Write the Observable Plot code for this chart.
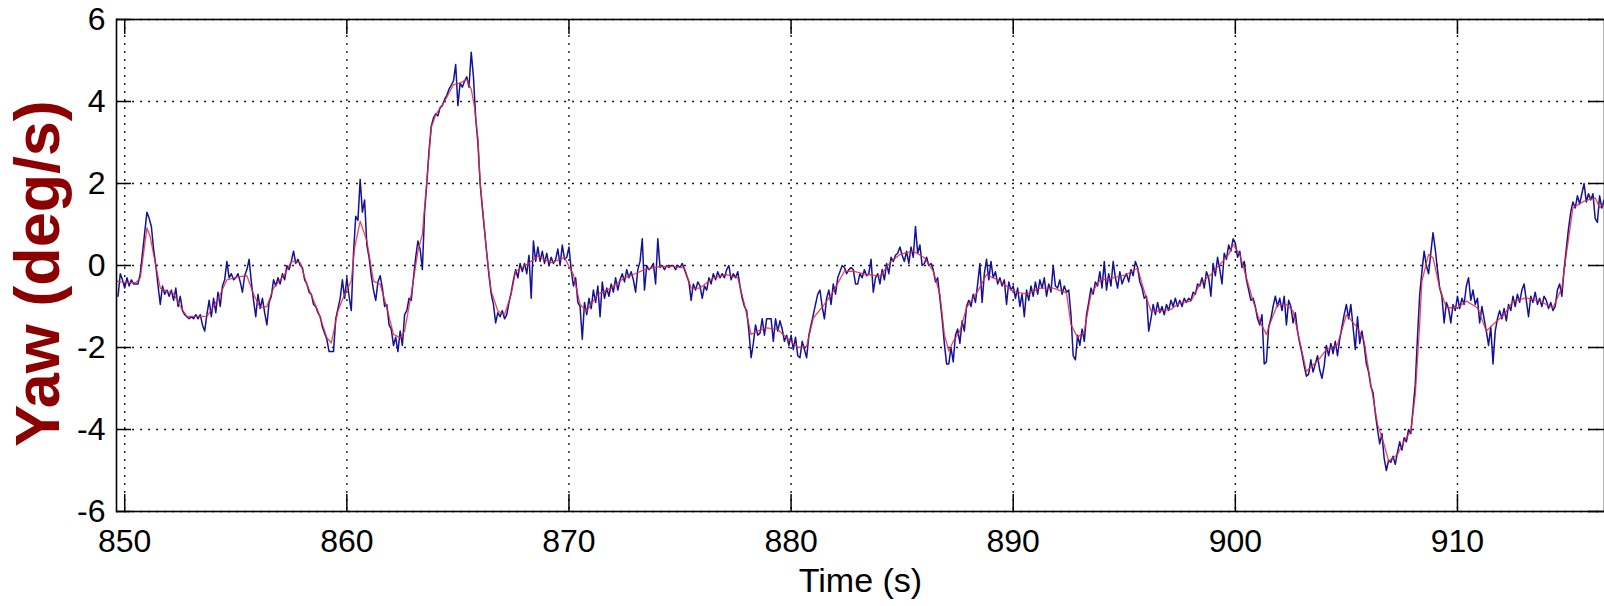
<!DOCTYPE html>
<html>
<head>
<meta charset="utf-8">
<script src="https://cdn.jsdelivr.net/npm/d3@7"></script>
<script src="https://cdn.jsdelivr.net/npm/@observablehq/plot@0.6"></script>
<style>
  html, body { margin: 0; padding: 0; background: #fff; }
  #chart { width: 1604px; height: 606px; overflow: hidden; }
</style>
</head>
<body>
<div id="chart"></div>
<script>
// ---- data ----
const xTicks = [850, 860, 870, 880, 890, 900, 910];
const xTickLabels = ["850", "860", "870", "880", "890", "900", "910"];
const yTicks = [-6, -4, -2, 0, 2, 4, 6];
const yTickLabels = ["-6", "-4", "-2", "0", "2", "4", "6"];
const xLabel = "Time (s)";
const yLabel = "Yaw (deg/s)";

// raw gyro yaw rate (blue), sampled every 0.1 s starting at 849.7 s
const blueStart = 849.7;
const blueStep = 0.1;
const blueValues = [
  -0.75, -0.2, -0.35,
  -0.55, -0.3, -0.5, -0.35, -0.45, -0.45, -0.45, -0.2, 0.3, 0.8,
  1.3, 1.15, 0.95, 0.4, 0.0, -0.5, -0.95, -0.5, -0.7, -0.6,
  -0.75, -0.6, -0.85, -0.55, -1.0, -0.75, -1.1, -1.2, -1.25, -1.3,
  -1.25, -1.3, -1.2, -1.3, -1.2, -1.45, -1.6, -1.2, -0.85, -1.25,
  -0.8, -1.15, -0.65, -1.0, -0.5, -0.35, 0.1, -0.3, -0.2, -0.35,
  -0.3, -0.2, -0.4, -0.65, -0.25, -0.1, 0.15, -0.4, -0.85, -1.25,
  -0.7, -1.05, -0.8, -1.15, -1.45, -0.9, -0.75, -0.35, -0.5, -0.3,
  -0.45, -0.2, -0.35, 0.0, -0.1, 0.1, 0.35, 0.05, 0.15, 0.0,
  -0.05, -0.35, -0.45, -0.65, -0.7, -0.95, -1.0, -1.15, -1.25, -1.5,
  -1.65, -1.8, -2.1, -2.1, -2.1, -1.3, -1.05, -0.8, -0.35, -0.8,
  -0.3, -0.75, -1.1, 0.3, 1.2, 1.1, 2.1, 1.3, 1.6, 0.5,
  0.2, -0.25, -0.6, -0.85, -0.4, -0.25, -0.55, -1.0, -0.95, -1.45,
  -1.55, -1.95, -1.75, -2.1, -1.6, -1.95, -1.2, -1.1, -0.8, -0.85,
  -0.3, 0.2, 0.6, 0.4, -0.1, 1.3, 2.0, 2.8, 3.4, 3.6,
  3.7, 3.65, 3.85, 3.9, 4.05, 4.15, 4.3, 4.4, 4.5, 4.9,
  3.9, 4.45, 4.35, 4.5, 4.6, 4.35, 5.2, 4.6, 3.6, 3.0,
  2.0, 1.4, 0.85, 0.3, -0.25, -0.7, -0.95, -1.4, -1.15, -1.25,
  -1.1, -1.3, -1.2, -0.9, -0.65, -0.35, -0.1, -0.3, 0.05, -0.15,
  0.05, -0.2, 0.25, -0.8, 0.6, 0.1, 0.45, 0.1, 0.35, 0.05,
  0.3, 0.0, 0.2, 0.05, 0.15, 0.4, 0.0, 0.5, 0.15, 0.2,
  0.45, -0.1, -0.5, -0.3, -0.9, -1.0, -1.8, -0.9, -1.2, -0.8,
  -1.05, -0.6, -0.9, -0.5, -1.25, -0.4, -0.8, -0.55, -0.75, -0.45,
  -0.65, -0.3, -0.6, -0.35, -0.2, -0.4, -0.1, -0.3, -0.15, -0.35,
  -0.65, -0.1, 0.1, 0.65, -0.6, 0.0, -0.1, -0.05, 0.05, -0.45,
  0.65, -0.05, 0.0, -0.1, 0.0, -0.05, 0.0, 0.0, -0.1, 0.0,
  -0.05, 0.05, -0.1, -0.25, -0.4, -0.85, -0.45, -0.6, -0.4, -0.5,
  -0.8, -0.5, -0.6, -0.3, -0.45, -0.2, -0.35, -0.15, -0.3, -0.2,
  -0.3, -0.1, 0.0, -0.35, -0.2, -0.3, -0.15, -0.5, -0.8, -1.0,
  -1.1, -1.6, -2.25, -1.9, -1.45, -1.7, -1.65, -1.3, -1.7, -1.3,
  -1.3, -1.3, -1.85, -1.3, -1.6, -1.35, -1.55, -1.85, -1.7, -1.95,
  -1.7, -2.05, -1.75, -2.2, -2.25, -1.85, -2.05, -2.25, -1.7, -1.45,
  -1.2, -0.95, -0.7, -0.6, -1.0, -1.3, -0.8, -0.6, -0.95, -0.45,
  -0.7, -0.3, -0.15, 0.0, -0.05, -0.2, -0.1, -0.05, -0.1, -0.45,
  -0.45, -0.2, -0.3, -0.1, -0.25, -0.2, 0.15, -0.65, -0.3, -0.2,
  -0.45, -0.1, -0.35, 0.05, -0.2, 0.2, 0.1, 0.25, 0.3, 0.45,
  0.25, 0.1, 0.35, 0.05, 0.45, 0.2, 0.95, 0.3, 0.5, 0.0,
  0.05, 0.2, 0.0, 0.05, -0.1, -0.4, -0.3, -0.8, -1.3, -1.9,
  -2.4, -2.4, -2.0, -2.35, -1.7, -1.55, -1.9, -1.35, -1.6, -1.0,
  -0.85, -1.0, -0.7, -0.9, -0.45, 0.05, -0.9, -0.2, 0.15, -0.35,
  0.1, -0.3, -0.15, -0.45, -0.3, -0.5, -0.35, -0.95, -0.4, -0.6,
  -0.5, -0.8, -0.55, -1.0, -0.7, -1.25, -0.6, -0.85, -0.5, -0.75,
  -0.4, -0.7, -0.35, -0.55, -0.3, -0.75, -0.45, -0.65, 0.0, -0.5,
  -0.55, -0.35, -0.7, -0.5, -0.65, -0.6, -1.2, -2.2, -2.3, -1.7,
  -1.95, -1.55, -1.85, -1.2, -0.9, -0.55, -0.7, -0.4, -0.5, -0.15,
  -0.55, 0.1, -0.6, -0.2, -0.5, 0.1, -0.3, -0.55, -0.15, -0.45,
  -0.3, -0.2, -0.4, -0.1, -0.25, 0.1, -0.05, -0.4, -0.55, -0.8,
  -0.75, -1.6, -1.3, -0.95, -1.2, -0.9, -1.15, -1.0, -1.2, -0.95,
  -1.1, -0.85, -1.0, -0.8, -1.0, -0.85, -1.0, -0.8, -0.9, -0.8,
  -0.85, -0.65, -0.7, -0.45, -0.5, -0.3, -0.55, -0.15, -0.3, -0.75,
  0.05, -0.25, 0.2, -0.1, -0.45, 0.3, 0.15, 0.5, 0.35, 0.65,
  0.55, 0.2, 0.35, -0.05, 0.1, -0.35, -0.6, -0.85, -0.8, -1.0,
  -1.3, -1.45, -1.2, -2.4, -2.35, -1.5, -1.3, -1.0, -0.75, -1.0,
  -0.8, -1.1, -0.75, -1.45, -0.85, -1.0, -1.4, -1.15, -1.6, -1.9,
  -2.15, -2.45, -2.7, -2.65, -2.3, -2.6, -2.4, -2.2, -2.55, -2.75,
  -2.45, -1.95, -2.2, -1.9, -2.15, -1.85, -2.2, -1.8, -1.5, -1.2,
  -0.95, -1.3, -0.95, -1.5, -2.05, -1.25, -1.9, -1.6, -1.95, -2.4,
  -2.6, -2.95, -3.1, -3.6, -4.0, -4.35, -4.1, -4.7, -5.0, -4.75,
  -4.8, -4.65, -4.85, -4.55, -4.3, -4.5, -4.2, -4.3, -4.0, -4.1,
  -3.5, -2.9, -1.75, -0.7, -0.15, 0.35, 0.0, -0.2, 0.3, 0.8,
  0.4, -0.1, -0.55, -0.75, -1.4, -0.9, -1.05, -1.4, -0.95, -1.1,
  -0.75, -1.05, -0.8, -0.95, -0.5, -0.3, -0.85, -0.6, -0.95, -0.8,
  -1.4, -1.0, -1.3, -1.6, -1.95, -1.5, -2.4, -1.6, -1.3, -1.1,
  -1.3, -1.05, -1.35, -0.95, -1.1, -0.75, -1.0, -0.7, -0.9, -0.6,
  -0.45, -0.85, -1.25, -0.75, -0.9, -0.65, -0.95, -0.8, -1.0, -0.75,
  -0.85, -1.05, -0.9, -1.1, -1.0, -0.6, -0.45, -0.75, -0.1, 0.4,
  0.9, 1.3, 1.55, 1.4, 1.7, 1.5, 1.75, 2.0, 1.55, 1.75,
  1.6, 1.75, 1.15, 1.05, 1.7, 1.4, 1.6
];

// filtered yaw rate (red)
const redTime = [
  849.65, 850.0, 850.5, 850.7, 850.85, 851.0, 851.15, 851.3, 851.6, 851.9,
  852.2, 852.5, 852.8, 853.7, 854.0, 854.3, 854.6, 855.1, 855.5, 855.8,
  856.1, 856.4, 856.7, 857.2, 857.5, 857.9, 858.2, 858.7, 859.1, 859.3,
  859.6, 859.9, 860.2, 860.35, 860.6, 860.9, 861.2, 861.5, 861.8, 862.1,
  862.4, 862.6, 862.9, 863.2, 863.4, 863.6, 863.8, 864.0, 864.4, 864.8,
  865.1, 865.4, 865.6, 865.75, 865.9, 866.0, 866.3, 866.5, 866.8, 867.1,
  867.4, 867.6, 868.1, 868.6, 869.2, 869.8, 870.2, 870.5, 870.8, 871.3,
  871.9, 872.5, 872.9, 873.4, 874.1, 874.7, 875.2, 875.5, 875.9, 876.5,
  877.1, 877.6, 877.9, 878.2, 878.5, 878.9, 879.4, 879.8, 880.3, 880.7,
  881.0, 881.5, 881.9, 882.4, 882.8, 883.4, 884.0, 884.5, 884.9, 885.5,
  886.0, 886.4, 886.7, 886.9, 887.1, 887.3, 887.6, 887.9, 888.4, 888.8,
  889.4, 890.0, 890.6, 891.2, 891.8, 892.4, 892.6, 892.9, 893.2, 893.5,
  893.9, 894.5, 895.1, 895.6, 895.9, 896.2, 896.6, 897.1, 897.5, 898.0,
  898.4, 898.9, 899.3, 899.7, 899.9, 900.2, 900.5, 900.8, 901.1, 901.4,
  901.6, 901.9, 902.3, 902.6, 902.9, 903.2, 903.7, 904.1, 904.6, 905.0,
  905.5, 905.8, 906.1, 906.4, 906.7, 906.9, 907.3, 907.6, 907.9, 908.1,
  908.3, 908.4, 908.7, 908.9, 909.2, 909.5, 910.0, 910.4, 910.9, 911.3,
  911.6, 912.1, 912.5, 913.1, 913.7, 914.3, 914.7, 914.9, 915.2, 915.7,
  916.2, 916.4, 916.6
];
const redValues = [
  -0.38, -0.42, -0.42, -0.3, 0.3, 0.92, 0.7, 0.27, -0.55, -0.63,
  -0.68, -1.0, -1.24, -1.24, -1.0, -0.7, -0.35, -0.28, -0.25, -0.7,
  -1.03, -1.0, -0.55, -0.22, 0.1, 0.07, -0.46, -1.11, -1.76, -1.89,
  -1.11, -0.7, -0.38, 0.43, 1.08, 0.6, -0.38, -0.46, -1.03, -1.68,
  -1.76, -1.6, -0.7, 0.35, 0.76, 2.06, 3.36, 3.68, 4.0, 4.41,
  4.45, 4.54, 4.3, 3.85, 3.11, 2.06, 0.27, -0.63, -1.11, -1.2,
  -0.7, -0.14, 0.02, 0.23, 0.07, 0.19, -0.22, -0.95, -1.11, -0.7,
  -0.55, -0.3, -0.22, -0.1, -0.02, -0.02, -0.06, -0.55, -0.55, -0.3,
  -0.22, -0.3, -0.95, -1.68, -1.6, -1.52, -1.56, -1.76, -2.0, -1.97,
  -1.28, -0.95, -0.63, -0.14, -0.14, -0.22, -0.26, 0.1, 0.27, 0.35,
  0.19, -0.14, -0.7, -1.68, -2.09, -1.85, -1.6, -1.03, -0.63, -0.22,
  -0.38, -0.63, -0.7, -0.55, -0.55, -0.67, -1.44, -1.76, -1.6, -0.7,
  -0.36, -0.3, -0.22, -0.06, -0.63, -1.11, -1.11, -1.07, -0.91, -0.87,
  -0.46, -0.22, 0.02, 0.27, 0.51, 0.27, -0.3, -0.87, -1.36, -1.68,
  -1.36, -0.95, -0.95, -1.11, -1.85, -2.58, -2.33, -2.05, -1.93, -1.2,
  -1.52, -1.85, -2.9, -3.87, -4.37, -4.77, -4.61, -4.28, -4.04, -3.15,
  -1.44, -0.38, 0.27, 0.19, -0.55, -1.03, -1.03, -0.87, -1.03, -1.6,
  -1.44, -1.2, -0.87, -0.79, -0.87, -1.03, -0.55, 0.27, 1.41, 1.57,
  1.65, 1.41, 1.5
];

// ---- tables built from the arrays ----
const blue = blueValues.map((v, i) => ({t: Math.round((blueStart + i * blueStep) * 10) / 10, v}));
const red = redTime.map((t, i) => ({t, v: redValues[i]}));

const W = 1604, H = 606;
const mL = 116, mR = 0, mT = 19, mB = 95;
const frameW = W - mL - mR, frameH = H - mT - mB;
const tickLen = 15;
const font = "'Liberation Sans', Arial, Helvetica, sans-serif";
const gridStyle = {stroke: "#000", strokeWidth: 1.4, strokeDasharray: "2,6", strokeOpacity: 0.9};

const chart = Plot.plot({
  width: W,
  height: H,
  marginLeft: mL,
  marginRight: mR,
  marginTop: mT,
  marginBottom: mB,
  style: {fontSize: "32px", fontFamily: font, background: "#fff", color: "#000", overflow: "visible"},
  x: {domain: [849.63, 916.62], ticks: xTicks, tickFormat: (d) => xTickLabels[xTicks.indexOf(d)], tickSize: 0, tickPadding: 18, label: null},
  y: {domain: [-6, 6], ticks: yTicks, tickFormat: (d) => yTickLabels[yTicks.indexOf(d)], tickSize: 0, tickPadding: 11, label: null},
  marks: [
    Plot.ruleX(xTicks, {x: (d) => d, ...gridStyle}),
    Plot.ruleY(yTicks, {y: (d) => d, ...gridStyle}),
    Plot.line(blue, {x: "t", y: "v", curve: "linear", stroke: "#12129a", strokeWidth: 1.5}),
    Plot.line(red, {x: "t", y: "v", curve: "linear", stroke: "#e8283c", strokeWidth: 1.3, strokeOpacity: 0.85}),
    Plot.tickX(xTicks, {x: (d) => d, insetTop: frameH - tickLen - 2, stroke: "#000", strokeWidth: 1.5}),
    Plot.tickX(xTicks, {x: (d) => d, insetBottom: frameH - tickLen, stroke: "#000", strokeWidth: 1.5}),
    Plot.tickY(yTicks, {y: (d) => d, insetRight: frameW - tickLen, stroke: "#000", strokeWidth: 1.5}),
    Plot.tickY(yTicks, {y: (d) => d, insetLeft: frameW - tickLen - 1, stroke: "#000", strokeWidth: 1.5}),
    Plot.frame({stroke: "#000", strokeWidth: 1.6}),
    Plot.axisX({ticks: xTicks, tickFormat: (d) => xTickLabels[xTicks.indexOf(d)], tickSize: 0, tickPadding: 18, fontSize: 32}),
    Plot.axisY({ticks: yTicks, tickFormat: (d) => yTickLabels[yTicks.indexOf(d)], tickSize: 0, tickPadding: 11, fontSize: 32}),
    Plot.text([xLabel], {text: (d) => d, frameAnchor: "bottom", textAnchor: "middle", dy: 70, fontSize: 34, fill: "#000", lineAnchor: "middle"}),
    Plot.text([yLabel], {text: (d) => d, frameAnchor: "left", textAnchor: "middle", dx: -78, dy: 8, rotate: -90, fontSize: 63, fontWeight: "bold", fill: "#8b0000", lineAnchor: "middle"})
  ]
});

document.getElementById("chart").appendChild(chart);
</script>
</body>
</html>
